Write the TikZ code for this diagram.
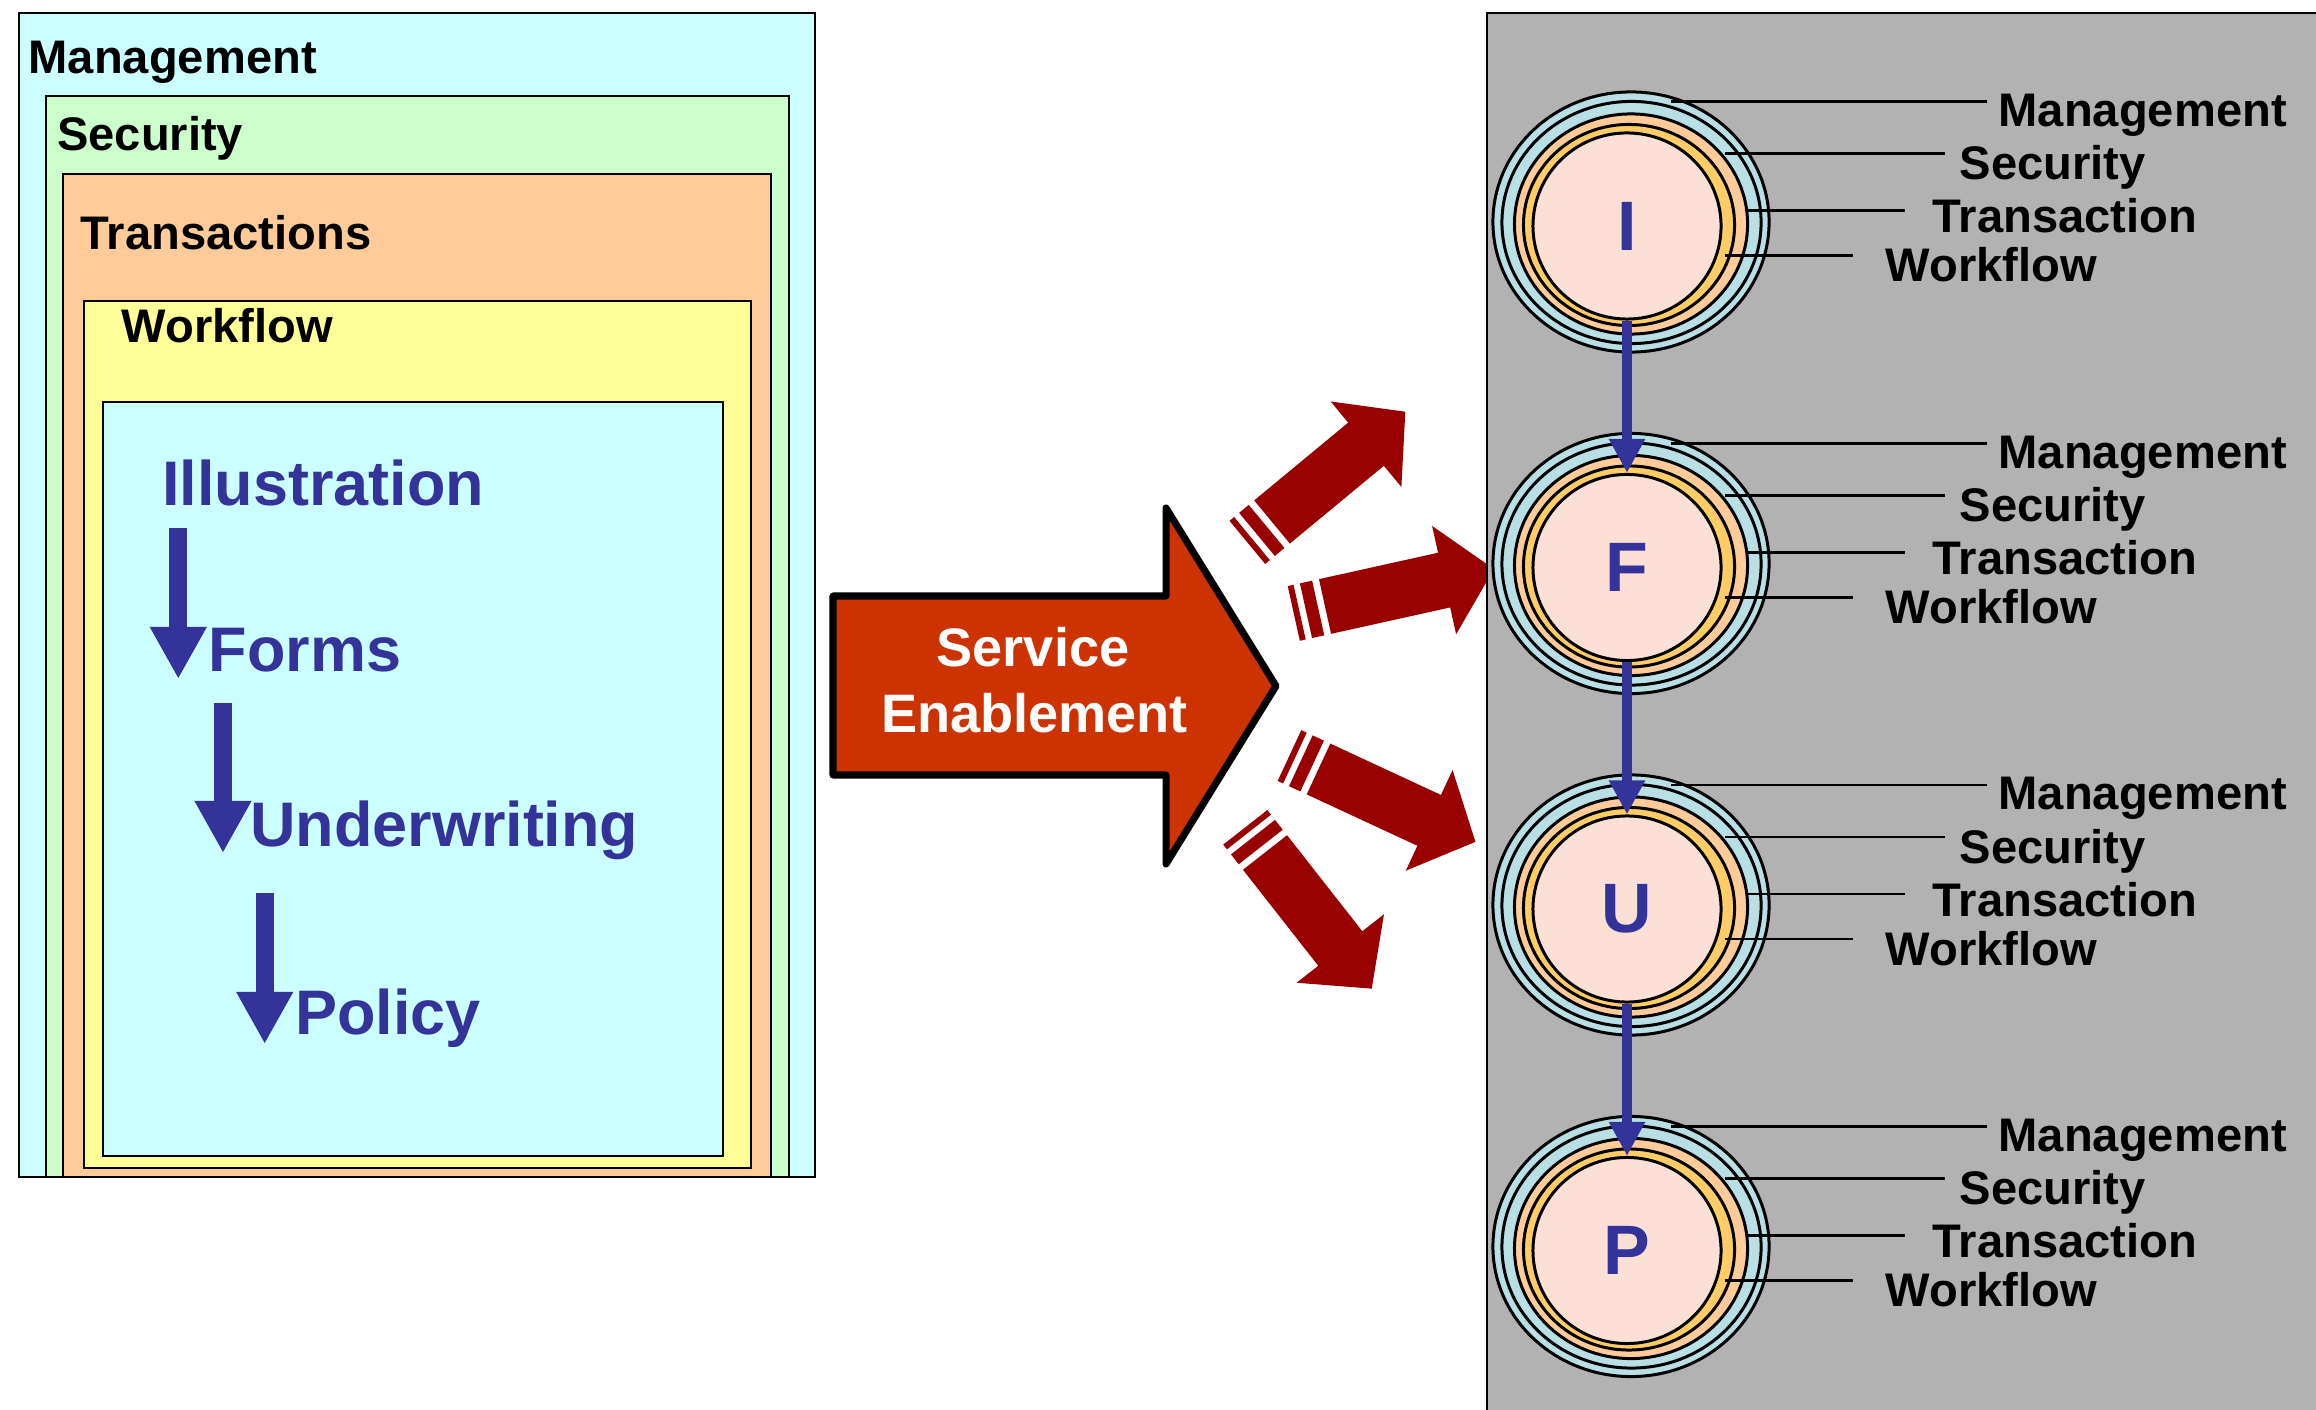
\documentclass[tikz,border=0pt]{standalone}
\usepackage{fontspec}
\setmainfont{Liberation Sans}
\usetikzlibrary{arrows.meta,shapes.geometric}

\definecolor{mgmtcyan}{HTML}{CCFFFF}
\definecolor{secgreen}{HTML}{CCFFCC}
\definecolor{trpeach}{HTML}{FFCC99}
\definecolor{wfyellow}{HTML}{FFFF99}
\definecolor{flowblue}{HTML}{333399}
\definecolor{panelgrey}{HTML}{B2B2B2}
\definecolor{ringcyan}{HTML}{B8E0E4}
\definecolor{ringgold}{HTML}{FFCC66}
\definecolor{corepink}{HTML}{FCE0D6}
\definecolor{svcred}{HTML}{CC3300}
\definecolor{darkred}{HTML}{990000}

\tikzset{
  layerbox/.style={draw=black, line width=0.8pt},
  layername/.style={font=\fontsize{13.4}{15}\selectfont\bfseries, anchor=base west, inner sep=0pt},
  flowname/.style={font=\fontsize{17.9}{20}\selectfont\bfseries, text=flowblue, anchor=base west, inner sep=0pt},
  flowarrow/.style={draw=flowblue, line width=5.1pt, -{Triangle[width=15.1pt,length=14.8pt]}},
  ring/.style={draw=black, line width=0.85pt},
  core/.style={ring, ellipse, fill=corepink, minimum width=1.88cm, minimum height=1.86cm,
    inner sep=0pt, font=\fontsize{19.9}{22}\selectfont\bfseries, text=flowblue},
  linkarrow/.style={draw=flowblue, line width=3.1pt, -{Triangle[width=9.7pt,length=9.7pt]}},
  leader/.style={draw=black, line width=0.85pt},
  svctext/.style={font=\fontsize{15.4}{18}\selectfont\bfseries, text=white, anchor=base, inner sep=0pt},
}

\begin{document}
\begin{tikzpicture}[x=0.01cm, y=-0.01cm]
\clip (0,0) rectangle (2316,1410);
\fill[white] (0,0) rectangle (2316,1410);

% nested layers on the left
\draw[layerbox, fill=mgmtcyan] (19,13) rectangle (815,1177);
\draw[layerbox, fill=secgreen] (46,96) rectangle (789,1177);
\draw[layerbox, fill=trpeach] (63,174) rectangle (771,1177);
\draw[layerbox, fill=wfyellow] (84,301) rectangle (751,1168);
\draw[layerbox, fill=mgmtcyan] (103,402) rectangle (723,1156);

\node[layername] (mgmt) at (28,74) {Management};
\node[layername] (sec) at (56.5,151) {Security};
\node[layername] (trans) at (80,250) {Transactions};
\node[layername] (wflow) at (121,343) {Workflow};

% the process steps
\node[flowname] (illus) at (161.5,506) {Illustration};
\node[flowname] (forms) at (208,671.5) {Forms};
\node[flowname] (uw) at (249.5,846.5) {Underwriting};
\node[flowname] (policy) at (294.5,1034) {Policy};

\coordinate (s1) at (178.3,528);
\coordinate (e1) at (178.3,679);
\coordinate (s2) at (223,703);
\coordinate (e2) at (223,853);
\coordinate (s3) at (264.7,893);
\coordinate (e3) at (264.7,1044);
\draw[flowarrow] (s1) -- (e1);
\draw[flowarrow] (s2) -- (e2);
\draw[flowarrow] (s3) -- (e3);

% big arrow
\draw[line width=2pt, line join=round, fill=svcred]
  (833,596) -- (1166,596) -- (1166,508) -- (1276,686) -- (1166,864) -- (1166,775) -- (833,775) -- cycle;
\node[svctext] (svc) at (1033,667) {Service};
\node[svctext] (enab) at (1034.5,733) {Enablement};

% striped arrows
\foreach \x/\y/\a in {1272/522/39.6, 1325/606.5/12.5, 1318.5/769/-24.9, 1265/852.5/-51.9}{
  \begin{scope}[shift={(\x,\y)}, rotate=\a]
    \fill[darkred] (0,-28) -- (122,-28) -- (122,-55.5) -- (173,0) -- (122,55.5) -- (122,28) -- (0,28) -- cycle;
    \fill[darkred] (-7,-28) rectangle (-19.5,28);
    \fill[darkred] (-26,-28) rectangle (-32,28);
  \end{scope}
}

% service panel
\draw[line width=0.8pt, fill=panelgrey] (1487,13) rectangle (2340,1430);

\foreach \l [count=\k from 0] in {I,F,U,P}{
  \pgfmathsetmacro\cy{222+341.5*\k}
  \draw[ring, fill=ringcyan] (1631,\cy) ellipse [x radius=1.38cm, y radius=1.30cm];
  \draw[ring, fill=ringcyan] (1631.5,\cy+0.5) ellipse [x radius=1.295cm, y radius=1.21cm];
  \draw[ring, fill=trpeach] (1631,\cy+2) ellipse [x radius=1.165cm, y radius=1.10cm];
  \draw[ring, fill=ringgold] (1629,\cy+3) ellipse [x radius=1.055cm, y radius=1.005cm];
  \node[core] (core\l) at (1627,\cy+4) {\l};
  \draw[leader] (1671,\cy-120) -- (1987,\cy-120);
  \draw[leader] (1725,\cy-68) -- (1945,\cy-68);
  \draw[leader] (1748,\cy-11) -- (1905,\cy-11);
  \draw[leader] (1725,\cy+34) -- (1853,\cy+34);
  \node[layername] (mg\l) at (1998,\cy-95) {Management};
  \node[layername] (se\l) at (1959,\cy-42) {Security};
  \node[layername] (tr\l) at (1932,\cy+11) {Transaction};
  \node[layername] (wf\l) at (1885,\cy+60) {Workflow};
}

\foreach \a/\b in {I/F,F/U,U/P}
  \draw[linkarrow] (core\a.south) -- (core\b.north);
\end{tikzpicture}
\end{document}
